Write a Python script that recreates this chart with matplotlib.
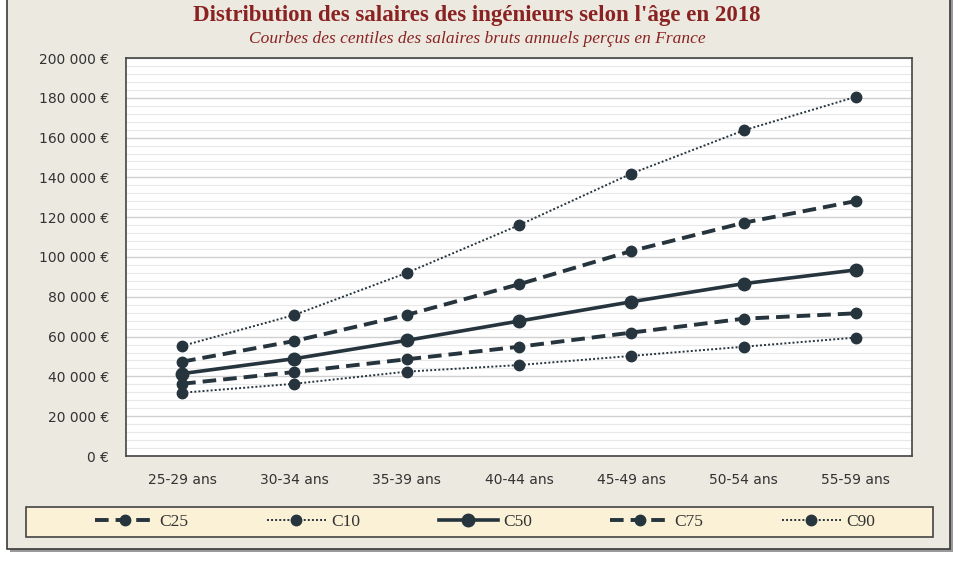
import matplotlib
matplotlib.use("Agg")
import matplotlib.pyplot as plt
from matplotlib.patches import Rectangle
from matplotlib.ticker import MultipleLocator, FuncFormatter

# tranches d'age
ages = ["25-29 ans", "30-34 ans", "35-39 ans", "40-44 ans", "45-49 ans", "50-54 ans", "55-59 ans"]

# centiles des salaires bruts annuels (euros)
c10 = [31800, 36300, 42400, 45700, 50300, 54900, 59500]
c25 = [36300, 42200, 48600, 54900, 62000, 69000, 71700]
c50 = [41400, 48900, 58100, 67800, 77500, 86600, 93500]
c75 = [47400, 57800, 70900, 86300, 103000, 117200, 128100]
c90 = [55300, 70900, 92000, 116000, 141900, 163600, 180500]

bg = "#ebe9e0"
line_col = "#26343d"
title_col = "#8b2222"

fig = plt.figure(figsize=(9.54, 5.73), dpi=100, facecolor="white")

# panneau beige avec ombre
W, H = 954, 573
fig.patches.append(Rectangle((10 / W, 1 - 552 / H), 943 / W, 560 / H, transform=fig.transFigure,
                             facecolor="#9a9a9a", edgecolor="none", zorder=-2))
fig.patches.append(Rectangle((7 / W, 1 - 549 / H), 943 / W, 560 / H, transform=fig.transFigure,
                             facecolor=bg, edgecolor="#3a3a3a", linewidth=1.2, zorder=-2))
# cadre de la legende
fig.patches.append(Rectangle((26 / W, 1 - 537 / H), 907 / W, 30 / H, transform=fig.transFigure,
                             facecolor="#fbf1d6", edgecolor="#444444", linewidth=1.2, zorder=-1))

ax = fig.add_axes([126 / W, 1 - 456 / H, 786 / W, 398 / H])
ax.set_zorder(1)
ax.set_facecolor("white")
x = range(len(ages))

dots = (0, (1, 1.1))
dash = (0, (3.5, 1.8))
ax.plot(x, c90, linestyle=dots, linewidth=1.4, color=line_col, marker="o", markersize=7.5, label="C90", zorder=3)
ax.plot(x, c75, linestyle=dash, linewidth=2.8, color=line_col, marker="o", markersize=7.5, label="C75", zorder=3)
ax.plot(x, c50, linestyle="-", linewidth=2.6, color=line_col, marker="o", markersize=9, label="C50", zorder=3)
ax.plot(x, c25, linestyle=dash, linewidth=2.8, color=line_col, marker="o", markersize=7.5, label="C25", zorder=3)
ax.plot(x, c10, linestyle=dots, linewidth=1.4, color=line_col, marker="o", markersize=7.5, label="C10", zorder=3)

ax.set_xlim(-0.5, len(ages) - 0.5)
ax.set_ylim(0, 200000)
ax.set_xticks(list(x))
ax.set_xticklabels(ages)
ax.yaxis.set_major_locator(MultipleLocator(20000))
ax.yaxis.set_minor_locator(MultipleLocator(4000))
ax.yaxis.set_major_formatter(FuncFormatter(lambda v, p: f"{int(v):,} €".replace(",", " ")))
ax.grid(True, which="major", axis="y", color="#d0d0d0", linewidth=1.0, zorder=0)
ax.grid(True, which="minor", axis="y", color="#e8e8e8", linewidth=0.8, zorder=0)
ax.tick_params(axis="both", which="both", length=0, labelsize=10, colors="#333333")
ax.tick_params(axis="x", pad=12)
ax.tick_params(axis="y", pad=12)
for s in ax.spines.values():
    s.set_color("#444444")
    s.set_linewidth(1.2)

fig.text(0.5, 1 - 15 / H, "Distribution des salaires des ingénieurs selon l'âge en 2018",
         ha="center", va="center", fontsize=16.5, fontweight="bold", family="Liberation Serif", color=title_col)
fig.text(0.5, 1 - 39 / H, "Courbes des centiles des salaires bruts annuels perçus en France",
         ha="center", va="center", fontsize=12.5, style="italic", family="Liberation Serif", color=title_col)

# legende dans l'ordre du graphique d'origine
h = {l.get_label(): l for l in ax.get_lines()}
order = ["C25", "C10", "C50", "C75", "C90"]
leg = fig.legend([h[k] for k in order], order, ncol=5, mode="expand",
                 bbox_to_anchor=(95 / W, 1 - 537 / H, 780 / W, 30 / H), loc="center",
                 frameon=False, prop={"family": "Liberation Serif", "size": 12.5},
                 handlelength=3.4, handletextpad=0.3, borderaxespad=0, borderpad=0.0)
for t in leg.get_texts():
    t.set_color("#333333")

fig.savefig("out.png", dpi=100, facecolor=fig.get_facecolor())
